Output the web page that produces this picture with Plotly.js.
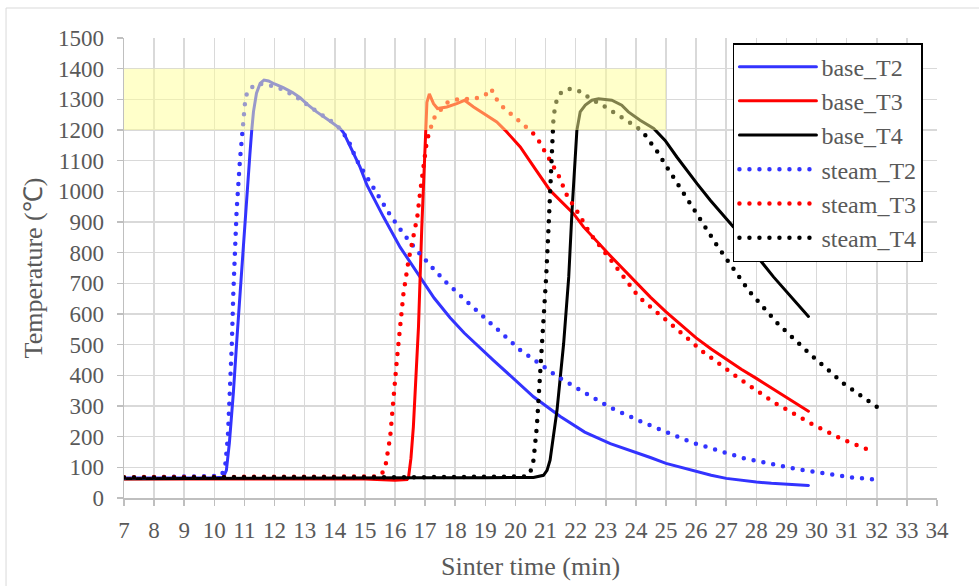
<!DOCTYPE html>
<html>
<head>
<meta charset="utf-8">
<script src="https://cdn.plot.ly/plotly-3.0.1.min.js"></script>
<style>
html,body{margin:0;padding:0;background:#fff;}
path.js-line{stroke-linecap:round !important;}
</style>
</head>
<body>
<div id="chart" style="width:979px;height:586px;"></div>
<script>
var seriesNames = ["base_T2","base_T3","base_T4","steam_T2","steam_T3","steam_T4"];

var xBaseT2 = [7,8,9,10,10.3,10.4,10.5,10.63,10.75,10.85,10.97,11.08,11.18,11.24,11.3,11.4,11.52,11.65,11.8,12.0,12.29,12.6,12.85,13.1,13.4,13.8,14.18,14.3,14.45,14.84,15.07,15.62,16.17,16.83,17.3,17.83,18.3,19.27,20.6,21.49,22.3,23.15,24.14,24.48,25,25.5,26,26.5,27,27.5,28,28.5,29,29.73];
var yBaseT2 = [65,65,66,66,68,90,180,340,520,666,840,993,1120,1196,1260,1320,1352,1363,1360,1350,1338,1322,1305,1283,1259,1232,1205,1190,1160,1079,1020,916,818,721,652,588,538,449,330,266,215,177,145,132,113,100,88,74,64,57,52,48,45,41];

var xBaseT3 = [7,9,11,13,15,16,16.4,16.45,16.53,16.61,16.7,16.78,16.89,17.0,17.06,17.14,17.28,17.41,17.72,18.05,18.31,18.61,19.05,19.38,19.66,20.16,20.65,21.15,21.93,22.26,23.15,24.14,24.48,25,25.5,26,26.5,27,27.5,28,28.58,29,29.73];
var yBaseT3 = [62,62,63,63,62,58,60,68,130,232,400,558,884,1188,1290,1318,1286,1270,1275,1286,1297,1275,1248,1226,1199,1145,1074,1003,927,884,790,690,655,607,563,522,486,452,420,390,355,329,283];

var xBaseT4 = [7,9,11,13,15,17,19,20,20.6,20.93,21.05,21.15,21.27,21.38,21.6,21.77,21.88,21.99,22.04,22.15,22.32,22.54,22.76,23.2,23.53,23.75,24.14,24.59,24.97,25.36,25.64,26.03,26.47,26.69,27.24,27.47,28.57,29.73];
var yBaseT4 = [63,64,64,64,65,66,66,66,67,74,90,123,200,286,503,721,938,1101,1199,1259,1281,1297,1302,1297,1281,1259,1232,1205,1166,1112,1074,1025,971,947,884,856,721,592];

var xSteamT2 = [7,8,9,10,10.2,10.3,10.36,10.45,10.52,10.58,10.63,10.74,10.85,10.96,11.02,11.1,11.41,11.74,12.09,12.42,12.75,13.32,13.63,13.93,14.18,14.45,14.73,15.06,15.45,15.84,16.28,16.72,17.22,17.72,18.83,19.6,20.16,21.49,22.26,23.15,24.2,25.86,27.58,29.29,31.08,32.17];
var ySteamT2 = [66,67,68,70,72,85,103,200,340,500,666,938,1101,1221,1291,1329,1351,1348,1340,1324,1306,1266,1245,1226,1204,1166,1101,1047,981,922,862,808,753,701,601,530,482,390,346,295,248,181,130,95,68,58];

var xSteamT3 = [7,9,11,13,15,15.4,15.55,15.67,15.84,15.95,16.06,16.17,16.28,16.45,16.61,16.74,16.83,16.92,17.06,17.28,17.7,18.0,18.66,18.99,19.19,19.36,19.6,19.88,20.15,20.43,20.69,20.88,21.08,21.21,21.43,21.71,22.1,22.48,23.13,24.1,25.14,26.24,27.41,28.6,29.87,30.84,31.9];
var ySteamT3 = [68,68,68,68,68,70,78,96,199,340,449,558,666,775,862,916,993,1069,1166,1237,1288,1299,1302,1313,1335,1302,1273,1250,1228,1203,1179,1148,1117,1090,1052,987,927,862,781,655,569,476,391,311,240,192,150];

var xSteamT4 = [7,9,11,13,15,17,19,20,20.35,20.49,20.6,20.71,20.82,20.93,21.02,21.1,21.15,21.21,21.26,21.32,21.43,21.6,21.87,22.2,22.48,22.81,23.15,23.42,23.76,24.03,24.31,24.53,24.76,24.92,25.14,25.53,25.92,26.3,26.69,26.92,27.33,27.76,28.73,29.79,30.9,32.08];
var ySteamT4 = [67,68,68,68,68,68,68,68,70,83,123,232,395,558,721,884,1014,1123,1232,1281,1313,1329,1335,1324,1302,1286,1264,1248,1226,1210,1183,1156,1123,1096,1063,1003,944,884,824,791,732,675,567,469,373,292];

var xTicks = [7,8,9,10,11,12,13,14,15,16,17,18,19,20,21,22,23,24,25,26,27,28,29,30,31,32,33,34];
var bandX = [7,25];
var bandY = [1200,1400];

var xs = [xBaseT2,xBaseT3,xBaseT4,xSteamT2,xSteamT3,xSteamT4];
var ys = [yBaseT2,yBaseT3,yBaseT4,ySteamT2,ySteamT3,ySteamT4];
var colors = ["#3333ff","#ff0000","#000000","#3333ff","#ff0000","#000000"];

var traces = seriesNames.map(function(n,i){
  var steam = i >= 3;
  return {
    type:"scatter", mode:"lines", name:n, x:xs[i], y:ys[i],
    legendgroup:n,
    line:{color:colors[i], width: steam ? 4.5 : 3, dash: steam ? "0px,10px" : "solid"},
    hoverinfo:"skip"
  };
});

var fontFam = "Liberation Serif, Times New Roman, serif";
var layout = {
  width:979, height:586,
  margin:{l:124, r:42, t:38, b:88},
  paper_bgcolor:"#ffffff", plot_bgcolor:"#ffffff",
  font:{family:fontFam, color:"#595959", size:23},
  showlegend:true,
  legend:{x:0.749, xanchor:"left", y:0.989, yanchor:"top",
    bgcolor:"#ffffff", bordercolor:"#000000", borderwidth:1.5,
    font:{family:fontFam, size:24, color:"#595959"},
    tracegroupgap:0, itemwidth:77, entrywidth:200, traceorder:"normal"},
  xaxis:{range:[7,34], tickvals:xTicks, ticktext:xTicks.map(String),
    showgrid:true, gridcolor:"#d9d9d9", gridwidth:1.5,
    showline:true, linecolor:"#bfbfbf", linewidth:1.5,
    ticks:"outside", ticklen:6, tickcolor:"#bfbfbf", tickwidth:1.5,
    ticklabelstandoff:5,
    zeroline:false, tickfont:{size:23, color:"#595959"},
    title:{text:"Sinter time (min)", font:{size:26, color:"#595959"}, standoff:14}},
  yaxis:{range:[0,1500], dtick:100, tick0:0,
    showgrid:true, gridcolor:"#d9d9d9", gridwidth:1.5,
    showline:true, linecolor:"#bfbfbf", linewidth:1.5,
    ticks:"outside", ticklen:6, tickcolor:"#bfbfbf", tickwidth:1.5,
    ticklabelstandoff:8,
    zeroline:false, tickfont:{size:23, color:"#595959"},
    title:{text:"Temperature (℃)", font:{size:26, color:"#595959"}, standoff:8}},
  shapes:[
    {type:"rect", xref:"x", yref:"y", x0:bandX[0], x1:bandX[1], y0:bandY[0], y1:bandY[1],
     fillcolor:"rgb(255,255,150)", opacity:0.5, line:{width:0}, layer:"above"},
    {type:"rect", xref:"paper", yref:"paper", x0:-0.1451, x1:1.07, y0:-0.25, y1:1.0652,
     fillcolor:"rgba(0,0,0,0)", line:{color:"#d9d9d9", width:1}, layer:"below"}
  ]
};

Plotly.newPlot("chart", traces, layout, {displayModeBar:false, staticPlot:true});
</script>
</body>
</html>
